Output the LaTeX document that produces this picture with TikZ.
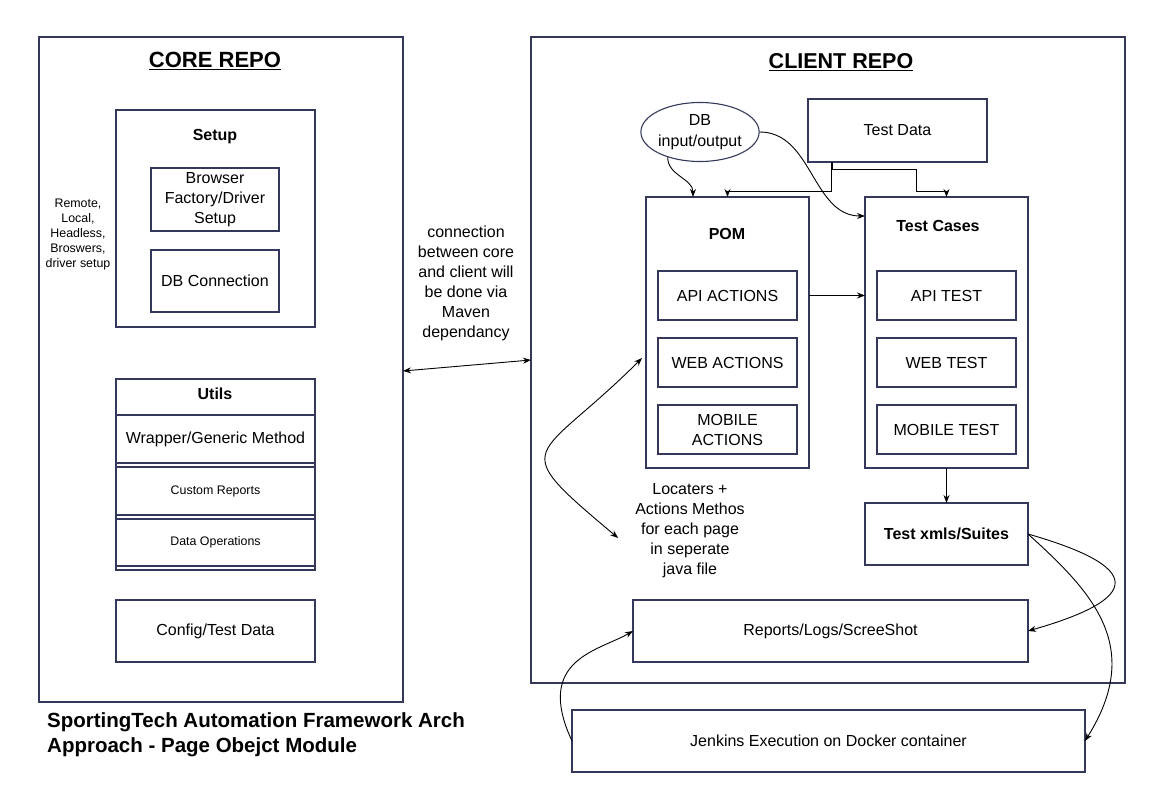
\documentclass[tikz,border=0pt]{standalone}
\usepackage{fontspec}
\setmainfont{Liberation Sans}
\usepackage{xcolor}
\usepackage{tikz}
\usetikzlibrary{shapes,shapes.geometric,arrows,arrows.meta,positioning,calc}
\definecolor{boxline}{RGB}{52,56,92}
\tikzstyle{arrow} = [line width=0.9pt,->,>={Stealth[length=8pt,width=6pt]}]
\tikzstyle{twoway} = [line width=0.9pt,<->,>={Stealth[length=8pt,width=6pt]}]
\tikzstyle{box} = [draw=boxline, line width=1.1pt, rectangle, inner sep=0pt, outer sep=0pt, align=center, font=\fontsize{16}{20}\selectfont]
\tikzstyle{txt} = [inner sep=0pt, align=center, font=\fontsize{16}{20}\selectfont]
\tikzstyle{bold} = [inner sep=0pt, align=center, font=\fontsize{16}{20}\selectfont\bfseries]
\tikzstyle{small} = [font=\fontsize{12.4}{15}\selectfont]
\tikzstyle{repotitle} = [inner sep=0pt, font=\fontsize{22}{26}\selectfont\bfseries]

\begin{document}
\begin{tikzpicture}[x=1pt,y=1pt]
\useasboundingbox (0,0) rectangle (1167,-805);

\node[box, minimum width=364pt, minimum height=665pt] (core) at (221,-369.5) {};
\node[repotitle] (coretitle) at (215,-61) {\underline{CORE REPO}};
\node[box, minimum width=199pt, minimum height=217pt] (setup) at (215.5,-218.5) {};
\node[bold] (setuptitle) at (215,-137) {Setup};
\node[box, minimum width=128pt, minimum height=63pt] (browser) at (215,-199.5) {Browser\\Factory/Driver\\Setup};
\node[box, minimum width=128pt, minimum height=62pt] (dbconn) at (215,-281) {DB Connection};
\node[txt, small] (drivernote) at (78,-235) {Remote,\\Local,\\Headless,\\Broswers,\\driver setup};

\node[box, minimum width=199pt, minimum height=191pt] (utils) at (215.5,-474.5) {};
\node[bold] (utilstitle) at (215,-394) {Utils};
\node[box, minimum width=199pt, minimum height=48pt] (wrapper) at (215.5,-439) {Wrapper/Generic Method};
\node[box, small, minimum width=199pt, minimum height=48pt] (customrep) at (215.5,-491) {Custom Reports};
\node[box, small, minimum width=199pt, minimum height=47pt] (dataops) at (215.5,-542.5) {Data Operations};
\node[box, minimum width=199pt, minimum height=62pt] (config) at (215.5,-631) {Config/Test Data};

\node[inner sep=0pt, anchor=west, align=left, font=\fontsize{20.5}{25}\selectfont\bfseries] (archtitle) at (47,-734.5) {SportingTech Automation Framework Arch\\Approach - Page Obejct Module};

\node[txt] (mavennote) at (466,-283) {connection\\between core\\and client will\\be done via\\Maven\\dependancy};

\node[box, minimum width=594pt, minimum height=646pt] (client) at (828,-360) {};
\node[repotitle, font=\fontsize{21.5}{26}\selectfont\bfseries] (clienttitle) at (841,-62) {\underline{CLIENT REPO}};
\node[draw=boxline, line width=1.1pt, ellipse, inner sep=0pt, minimum width=107pt, minimum height=59pt, align=center, font=\fontsize{16}{21}\selectfont] (dbio) at (700,-132) {DB\\input/output};
\node[box, minimum width=179pt, minimum height=63pt] (testdata) at (897.5,-130.5) {Test Data};

\node[box, minimum width=163pt, minimum height=271pt] (pom) at (727.5,-332.5) {};
\node[bold] (pomtitle) at (727,-234) {POM};
\node[box, minimum width=139pt, minimum height=49pt] (apiact) at (727.5,-295.5) {API ACTIONS};
\node[box, minimum width=139pt, minimum height=49pt, below=18pt of apiact] (webact) {WEB ACTIONS};
\node[box, minimum width=139pt, minimum height=49pt, below=18pt of webact] (mobact) {MOBILE\\ACTIONS};

\node[box, minimum width=163pt, minimum height=271pt] (testcases) at (946.5,-332.5) {};
\node[bold] (tctitle) at (938,-226) {Test Cases};
\node[box, minimum width=139pt, minimum height=49pt] (apitest) at (946.5,-295.5) {API TEST};
\node[box, minimum width=139pt, minimum height=49pt, below=18pt of apitest] (webtest) {WEB TEST};
\node[box, minimum width=139pt, minimum height=49pt, below=18pt of webtest] (mobtest) {MOBILE TEST};

\node[box, minimum width=163pt, minimum height=62pt, font=\fontsize{16}{20}\selectfont\bfseries] (suites) at (946.5,-534) {Test xmls/Suites};
\node[txt] (locaters) at (690,-531) {Locaters +\\Actions Methos\\for each page\\in seperate\\java file};
\node[box, minimum width=395pt, minimum height=62pt] (reports) at (830.5,-631) {Reports/Logs/ScreeShot};
\node[box, minimum width=513pt, minimum height=62pt] (jenkins) at (828.5,-741) {Jenkins Execution on Docker container};

\draw[twoway] ($(core.north east)+(0,-334)$) -- ($(client.north west)+(0,-323)$);
\draw[arrow] (dbio.218) to[out=-90,in=90] ($(pom.north west)+(47,0)$);
\draw[arrow] (dbio.east) to[out=0,in=180] ($(testcases.north west)+(0,-19)$);
\draw[arrow] ($(testdata.south west)+(23,0)$) |- ($(pom.north)+(0,6)$) -- (pom.north);
\draw[arrow] ($(testdata.south west)+(24,0)$) -- ++(0,-7) -| ($(testcases.north)+(-30,6)$) -| (testcases.north);
\draw[arrow] (pom.east |- apiact.east) -- (testcases.west |- apiact.east);
\draw[twoway] ($(pom.west)+(-4,-25.5)$) .. controls +(225:150) and +(140:150) .. ($(locaters.west)+(-17,-7)$);
\draw[arrow] (testcases) -- (suites);
\draw[arrow] (suites.east) .. controls +(-16:120) and +(16:120) .. (reports.east);
\draw[arrow] (suites.east) .. controls +(-42:90) and +(58:110) .. (jenkins.east);
\draw[arrow] (jenkins.west) .. controls +(115:90) and +(210:40) .. (reports.west);
\end{tikzpicture}
\end{document}
